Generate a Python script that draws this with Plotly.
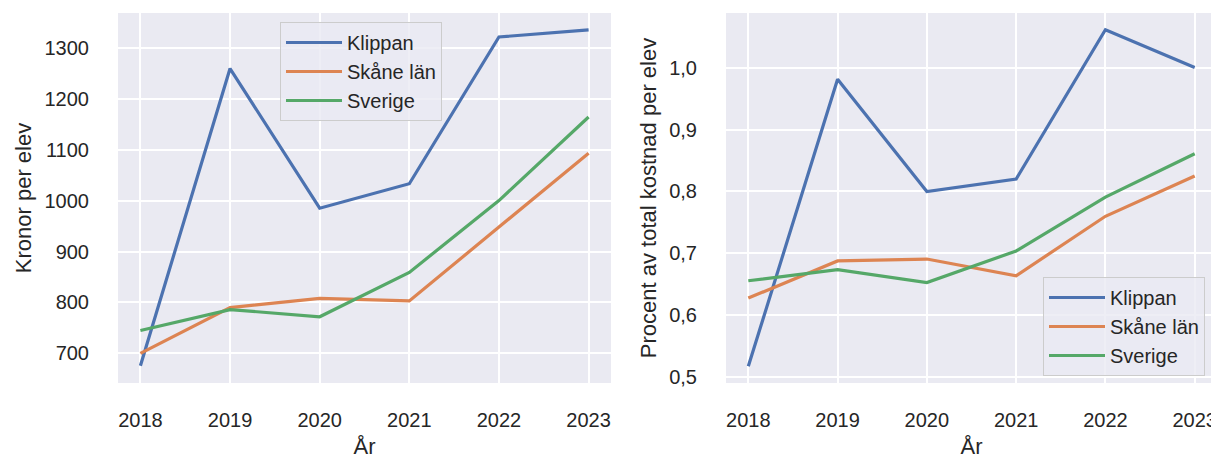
import plotly.graph_objects as go

years = [2018, 2019, 2020, 2021, 2022, 2023]
kr_klippan = [676, 1259, 985, 1033, 1321, 1335]
kr_skane = [700, 790, 808, 803, 948, 1093]
kr_sverige = [745, 786, 772, 859, 1000, 1164]
pct_klippan = [0.518, 0.981, 0.800, 0.820, 1.061, 1.000]
pct_skane = [0.628, 0.688, 0.691, 0.664, 0.760, 0.825]
pct_sverige = [0.656, 0.674, 0.653, 0.704, 0.791, 0.861]
kr_ticks = [700, 800, 900, 1000, 1100, 1200, 1300]
pct_ticks = [0.5, 0.6, 0.7, 0.8, 0.9, 1.0]
names = ["Klippan", "Skåne län", "Sverige"]
colors = ["#4C72B0", "#DD8452", "#55A868"]

FONT = "Liberation Sans, Arial, sans-serif"
TXT = "#262626"
# the page body has an 8px margin, so the figure is drawn 8px in from the top-left
W, H, OFF = 1211, 451, 8
T, B = 5, 76
PH = H - T - B

fig = go.Figure()
for name, col, vals in zip(names, colors, [kr_klippan, kr_skane, kr_sverige]):
    fig.add_trace(go.Scatter(x=years, y=vals, mode="lines", name=name,
                             line=dict(color=col, width=3.2), xaxis="x", yaxis="y",
                             legend="legend"))
for name, col, vals in zip(names, colors, [pct_klippan, pct_skane, pct_sverige]):
    fig.add_trace(go.Scatter(x=years, y=vals, mode="lines", name=name,
                             line=dict(color=col, width=3.2), xaxis="x2", yaxis="y2",
                             legend="legend2"))

axis_common = dict(showgrid=True, gridcolor="white", gridwidth=2, zeroline=False,
                   showline=False, ticks="", tickfont=dict(size=20, color=TXT),
                   title_font=dict(size=22, color=TXT))

leg_common = dict(xanchor="left", yanchor="top", bgcolor="rgba(234,234,242,0.8)",
                  bordercolor="#CCCCCC", borderwidth=1, font=dict(size=20, color=TXT),
                  itemwidth=56)


def px_x(x):
    return (x - OFF) / W


def px_y(y):
    return (H - B - (y - OFF)) / PH


fig.update_layout(
    width=W, height=H,
    margin=dict(l=0, r=0, t=T, b=B),
    paper_bgcolor="white", plot_bgcolor="#EAEAF2",
    font=dict(family=FONT, color=TXT),
    separators=",.",
    xaxis=dict(domain=[px_x(118), px_x(611)], range=[2017.75, 2023.25], tickvals=years,
               title=dict(text="År", standoff=11), ticklabelstandoff=23, anchor="y", **axis_common),
    yaxis=dict(domain=[0, 1], range=[642, 1368], tickvals=kr_ticks,
               title=dict(text="Kronor per elev", standoff=6), ticklabelstandoff=28, anchor="x", **axis_common),
    xaxis2=dict(domain=[px_x(726), px_x(1217)], range=[2017.75, 2023.25], tickvals=years,
                title=dict(text="År", standoff=11), ticklabelstandoff=23, anchor="y2", **axis_common),
    yaxis2=dict(domain=[0, 1], range=[0.491, 1.088], tickvals=pct_ticks,
                tickformat=".1f", title=dict(text="Procent av total kostnad per elev", standoff=6),
                ticklabelstandoff=28, anchor="x2", **axis_common),
    legend=dict(x=px_x(280), y=px_y(22), **leg_common),
    legend2=dict(x=px_x(1043), y=px_y(277), **leg_common),
)

fig.write_html("out.html")
